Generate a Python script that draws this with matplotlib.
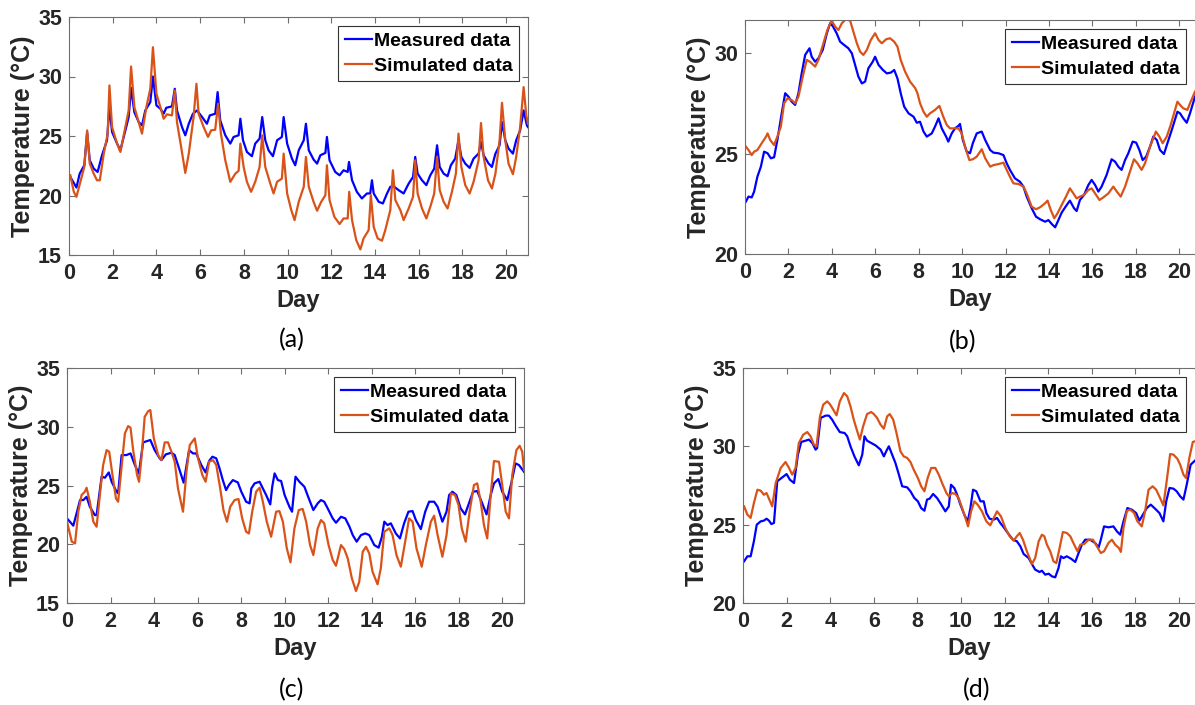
import numpy as np
import matplotlib.pyplot as plt

plt.rcParams['font.family'] = ['Liberation Sans', 'DejaVu Sans']

# (day, temperature) points
a_measured = [
    (0.06, 21.56), (0.34, 20.67), (0.49, 21.84), (0.70, 22.54), (0.83, 25.3), (0.95, 22.96),
    (1.13, 22.26), (1.31, 21.98), (1.51, 23.38), (1.74, 24.64), (1.85, 27.49), (1.97, 25.34),
    (2.20, 24.36), (2.35, 23.80), (2.58, 25.47), (2.73, 26.59), (2.84, 29.05), (2.99, 27.0),
    (3.19, 26.17), (3.34, 25.89), (3.49, 27.15), (3.72, 27.85), (3.84, 30.0), (4.00, 27.57),
    (4.18, 27.29), (4.33, 26.87), (4.45, 27.37), (4.71, 27.49), (4.84, 28.97), (4.94, 27.15),
    (5.17, 25.75), (5.32, 25.06), (5.48, 26.03), (5.67, 26.87), (5.86, 27.15), (6.09, 26.59),
    (6.31, 26.03), (6.44, 26.73), (6.69, 26.87), (6.80, 28.69), (6.92, 26.31), (7.15, 25.06),
    (7.38, 24.36), (7.53, 24.92), (7.76, 25.06), (7.84, 26.45), (7.96, 24.64), (8.14, 23.66),
    (8.37, 23.30), (8.52, 24.36), (8.72, 24.78), (8.84, 26.59), (8.98, 24.64), (9.13, 23.80),
    (9.33, 23.30), (9.52, 24.64), (9.74, 24.92), (9.82, 26.59), (9.98, 24.36), (10.20, 23.10),
    (10.35, 22.54), (10.51, 23.80), (10.74, 24.64), (10.84, 26.03), (10.97, 23.80), (11.19, 23.02),
    (11.35, 22.68), (11.50, 23.38), (11.73, 23.58), (11.80, 24.92), (11.92, 22.96), (12.18, 21.98),
    (12.38, 21.70), (12.56, 22.12), (12.75, 21.98), (12.81, 22.82), (12.95, 21.28), (13.17, 20.31),
    (13.40, 19.75), (13.63, 20.17), (13.78, 20.17), (13.86, 21.28), (13.94, 20.17), (14.17, 19.47),
    (14.36, 19.33), (14.55, 20.17), (14.70, 20.73), (14.85, 20.78), (15.08, 20.45), (15.31, 20.17),
    (15.54, 21.0), (15.74, 21.56), (15.84, 23.24), (15.95, 21.84), (16.15, 21.28), (16.35, 20.87),
    (16.53, 21.70), (16.71, 22.26), (16.84, 24.22), (16.96, 22.40), (17.14, 21.84), (17.32, 21.62),
    (17.47, 22.54), (17.67, 23.10), (17.82, 24.64), (17.95, 23.24), (18.13, 22.68), (18.33, 22.32),
    (18.51, 23.10), (18.74, 23.52), (18.85, 24.50), (18.97, 23.38), (19.20, 22.68), (19.35, 22.40),
    (19.51, 23.52), (19.70, 24.22), (19.81, 26.17), (19.96, 24.64), (20.11, 23.94), (20.31, 23.52),
    (20.46, 24.64), (20.64, 25.47), (20.80, 27.15), (20.95, 25.89), (21.0, 25.75),
]
a_simulated = [
    (0.06, 21.7), (0.22, 20.31), (0.34, 19.89), (0.52, 21.15), (0.70, 22.40), (0.83, 25.47),
    (0.95, 22.68), (1.13, 21.84), (1.28, 21.28), (1.41, 21.28), (1.59, 23.52), (1.77, 25.20),
    (1.85, 29.25), (1.97, 25.75), (2.20, 24.36), (2.35, 23.66), (2.58, 25.75), (2.73, 27.15),
    (2.84, 30.84), (2.99, 27.43), (3.19, 26.17), (3.34, 25.2), (3.54, 27.43), (3.72, 28.97),
    (3.84, 32.46), (4.00, 28.55), (4.18, 27.43), (4.33, 26.45), (4.48, 26.82), (4.71, 26.73),
    (4.84, 28.83), (4.94, 26.17), (5.13, 24.08), (5.32, 21.90), (5.48, 23.52), (5.70, 26.59),
    (5.83, 29.39), (5.93, 26.87), (6.16, 25.75), (6.36, 24.92), (6.50, 25.47), (6.69, 25.53),
    (6.82, 27.71), (6.95, 25.20), (7.15, 22.96), (7.38, 21.15), (7.61, 21.84), (7.76, 22.07),
    (7.84, 24.36), (7.99, 22.40), (8.14, 21.15), (8.33, 20.31), (8.52, 21.15), (8.72, 22.40),
    (8.84, 25.06), (8.98, 22.40), (9.21, 21.0), (9.36, 20.17), (9.52, 21.15), (9.74, 21.42),
    (9.82, 23.52), (9.98, 20.17), (10.17, 18.77), (10.32, 17.93), (10.51, 19.47), (10.74, 20.73),
    (10.84, 23.24), (10.97, 20.73), (11.19, 19.47), (11.35, 18.72), (11.54, 19.47), (11.73, 20.03),
    (11.80, 22.54), (11.92, 19.61), (12.14, 18.21), (12.38, 17.60), (12.56, 18.07), (12.75, 18.07),
    (12.82, 20.31), (12.95, 17.93), (13.14, 16.26), (13.33, 15.47), (13.48, 16.40), (13.71, 17.09),
    (13.81, 20.03), (13.94, 17.37), (14.12, 16.40), (14.32, 16.2), (14.47, 17.09), (14.70, 18.77),
    (14.82, 22.12), (14.93, 19.61), (15.16, 18.77), (15.31, 17.93), (15.54, 18.91), (15.74, 19.89),
    (15.84, 22.96), (15.95, 20.17), (16.15, 18.91), (16.35, 18.07), (16.53, 19.05), (16.71, 20.17),
    (16.84, 23.24), (16.96, 20.45), (17.14, 19.47), (17.32, 18.91), (17.52, 20.31), (17.70, 21.84),
    (17.82, 25.20), (17.95, 22.40), (18.13, 20.87), (18.33, 20.17), (18.51, 21.15), (18.74, 22.96),
    (18.85, 26.09), (18.97, 23.24), (19.17, 21.28), (19.35, 20.59), (19.51, 21.84), (19.70, 24.64),
    (19.81, 27.79), (19.96, 24.64), (20.11, 22.68), (20.31, 21.79), (20.46, 23.24), (20.64, 25.75),
    (20.80, 29.11), (20.92, 26.73), (21.0, 26.03),
]

b_measured = [
    (0.04, 22.61), (0.16, 22.86), (0.31, 22.82), (0.42, 23.11), (0.57, 23.85), (0.73, 24.35),
    (0.88, 25.10), (1.04, 25.02), (1.19, 24.77), (1.34, 24.82), (1.49, 25.68), (1.69, 27.01),
    (1.85, 28.01), (2.00, 27.84), (2.15, 27.59), (2.31, 27.43), (2.46, 28.01), (2.61, 29.0),
    (2.77, 29.92), (2.97, 30.25), (3.07, 29.83), (3.23, 29.58), (3.38, 29.75), (3.58, 30.17),
    (3.77, 31.0), (3.92, 31.5), (4.04, 31.36), (4.22, 31.0), (4.38, 30.58), (4.56, 30.42),
    (4.76, 30.25), (4.92, 30.0), (5.07, 29.42), (5.22, 28.84), (5.38, 28.50), (5.53, 28.59),
    (5.68, 29.25), (5.88, 29.58), (5.99, 29.83), (6.15, 29.42), (6.35, 29.17), (6.53, 29.0),
    (6.72, 29.04), (6.87, 29.17), (7.02, 28.75), (7.17, 28.01), (7.33, 27.34), (7.53, 27.01),
    (7.76, 26.84), (7.91, 26.54), (8.06, 26.59), (8.22, 26.10), (8.37, 25.85), (8.60, 26.01),
    (8.75, 26.35), (8.91, 26.76), (9.06, 26.26), (9.26, 25.85), (9.36, 25.60), (9.52, 26.01),
    (9.67, 26.26), (9.82, 26.38), (9.90, 26.48), (10.03, 25.68), (10.21, 25.10), (10.36, 25.02),
    (10.49, 25.52), (10.67, 26.01), (10.90, 26.10), (11.06, 25.68), (11.29, 25.18), (11.44, 25.05),
    (11.67, 25.02), (11.90, 24.93), (12.05, 24.52), (12.20, 24.19), (12.43, 23.77), (12.66, 23.60),
    (12.82, 23.36), (12.97, 22.86), (13.20, 22.28), (13.40, 21.86), (13.59, 21.73), (13.82, 21.61),
    (13.97, 21.69), (14.12, 21.50), (14.28, 21.33), (14.43, 21.69), (14.58, 22.06), (14.78, 22.39),
    (14.96, 22.66), (15.15, 22.28), (15.27, 22.14), (15.42, 22.69), (15.61, 22.94), (15.81, 23.44),
    (15.96, 23.69), (16.12, 23.44), (16.27, 23.11), (16.42, 23.36), (16.65, 23.94), (16.88, 24.72),
    (17.04, 24.60), (17.19, 24.35), (17.34, 24.19), (17.50, 24.68), (17.65, 25.02), (17.85, 25.60),
    (18.01, 25.55), (18.16, 25.18), (18.31, 24.68), (18.47, 24.85), (18.65, 25.35), (18.80, 25.85),
    (18.96, 25.68), (19.11, 25.18), (19.29, 24.98), (19.45, 25.52), (19.65, 26.18), (19.91, 27.09),
    (20.03, 27.01), (20.18, 26.76), (20.34, 26.54), (20.49, 27.01), (20.72, 27.84),
]
b_simulated = [
    (0.04, 25.35), (0.16, 25.18), (0.31, 24.93), (0.42, 25.10), (0.57, 25.18), (0.77, 25.52),
    (0.97, 25.85), (1.04, 26.01), (1.16, 25.68), (1.34, 25.43), (1.49, 25.85), (1.65, 26.35),
    (1.80, 27.51), (1.96, 27.76), (2.15, 27.67), (2.31, 27.51), (2.46, 27.84), (2.66, 28.84),
    (2.84, 29.67), (2.99, 29.58), (3.23, 29.34), (3.38, 29.67), (3.61, 30.50), (3.79, 31.16),
    (3.99, 31.63), (4.15, 31.33), (4.30, 31.16), (4.46, 31.50), (4.65, 31.70), (4.84, 31.63),
    (4.99, 31.08), (5.15, 30.50), (5.30, 30.08), (5.45, 29.92), (5.61, 30.17), (5.79, 30.66),
    (5.99, 31.0), (6.15, 30.66), (6.30, 30.50), (6.50, 30.70), (6.68, 30.75), (6.87, 30.58),
    (7.02, 30.33), (7.17, 29.67), (7.37, 29.09), (7.60, 28.59), (7.84, 28.26), (7.94, 28.01),
    (8.06, 27.51), (8.22, 27.09), (8.37, 26.84), (8.52, 27.01), (8.75, 27.18), (8.95, 27.38),
    (9.13, 26.84), (9.29, 26.43), (9.44, 26.26), (9.63, 26.26), (9.82, 26.26), (9.98, 26.01),
    (10.13, 25.35), (10.33, 24.68), (10.49, 24.72), (10.67, 24.85), (10.90, 25.22), (11.06, 24.77),
    (11.29, 24.35), (11.44, 24.43), (11.67, 24.48), (11.90, 24.55), (12.05, 24.19), (12.20, 23.85),
    (12.36, 23.52), (12.59, 23.49), (12.82, 23.36), (12.97, 23.02), (13.20, 22.36), (13.40, 22.23),
    (13.59, 22.33), (13.82, 22.53), (13.93, 22.66), (14.08, 22.19), (14.24, 21.78), (14.39, 22.03),
    (14.58, 22.44), (14.78, 22.86), (14.96, 23.27), (15.12, 23.02), (15.27, 22.77), (15.42, 22.86),
    (15.61, 22.94), (15.81, 23.19), (15.96, 23.27), (16.12, 23.02), (16.32, 22.69), (16.50, 22.82),
    (16.73, 23.02), (16.96, 23.36), (17.12, 23.11), (17.30, 22.86), (17.50, 23.36), (17.70, 24.02),
    (17.91, 24.72), (18.07, 24.52), (18.26, 24.19), (18.42, 24.52), (18.65, 25.35), (18.92, 26.10),
    (19.08, 25.85), (19.23, 25.52), (19.42, 25.85), (19.60, 26.43), (19.80, 27.18), (19.91, 27.59),
    (20.03, 27.43), (20.18, 27.26), (20.37, 27.18), (20.49, 27.51), (20.72, 28.09),
]

c_measured = [
    (0.0, 22.2), (0.29, 21.58), (0.44, 22.63), (0.60, 23.76), (0.75, 23.76), (0.90, 24.04),
    (1.05, 23.19), (1.28, 22.48), (1.36, 22.48), (1.59, 25.75), (1.74, 25.66), (1.92, 26.11),
    (2.05, 25.32), (2.28, 24.47), (2.35, 24.33), (2.51, 27.59), (2.73, 27.59), (2.92, 27.73),
    (3.12, 26.74), (3.30, 26.03), (3.50, 28.67), (3.68, 28.78), (3.83, 28.87), (4.03, 28.01),
    (4.26, 27.31), (4.34, 27.16), (4.54, 27.65), (4.80, 27.79), (4.95, 27.59), (5.15, 26.45),
    (5.36, 25.24), (5.61, 28.01), (5.79, 27.73), (5.94, 27.73), (6.17, 26.74), (6.37, 26.11),
    (6.53, 27.08), (6.68, 27.45), (6.86, 27.31), (7.01, 26.45), (7.16, 25.46), (7.31, 24.61),
    (7.44, 25.04), (7.62, 25.46), (7.85, 25.26), (8.01, 24.47), (8.23, 23.62), (8.39, 23.48),
    (8.47, 24.75), (8.62, 25.18), (8.85, 25.32), (9.00, 24.75), (9.15, 24.19), (9.34, 23.39),
    (9.43, 24.89), (9.54, 26.03), (9.69, 25.46), (9.84, 25.38), (10.00, 24.19), (10.22, 23.19),
    (10.34, 22.77), (10.50, 25.75), (10.68, 25.32), (10.91, 24.89), (11.11, 23.90), (11.32, 22.91),
    (11.52, 23.48), (11.67, 23.76), (11.82, 23.62), (11.98, 23.05), (12.21, 22.20), (12.36, 21.83),
    (12.59, 22.34), (12.79, 22.20), (12.98, 21.49), (13.13, 20.78), (13.31, 20.22), (13.51, 20.78),
    (13.71, 20.92), (13.89, 20.78), (14.12, 19.93), (14.32, 19.71), (14.47, 20.64), (14.58, 21.92),
    (14.73, 21.63), (14.88, 21.78), (15.11, 20.92), (15.30, 20.50), (15.49, 21.78), (15.69, 22.77),
    (15.88, 22.82), (16.03, 22.06), (16.26, 21.29), (16.46, 22.77), (16.64, 23.62), (16.87, 23.62),
    (17.03, 23.19), (17.25, 21.92), (17.44, 22.77), (17.56, 24.19), (17.71, 24.47), (17.89, 24.19),
    (18.09, 23.05), (18.29, 22.54), (18.47, 23.48), (18.66, 24.47), (18.85, 24.53), (19.05, 23.62),
    (19.28, 22.54), (19.47, 24.19), (19.62, 25.18), (19.82, 25.55), (20.00, 24.47), (20.23, 23.76),
    (20.43, 25.32), (20.61, 26.88), (20.77, 26.74), (21.0, 26.17),
]
c_simulated = [
    (0.0, 21.92), (0.22, 20.22), (0.37, 20.07), (0.52, 22.77), (0.67, 24.19), (0.82, 24.47),
    (0.90, 24.81), (1.05, 23.62), (1.21, 21.92), (1.36, 21.49), (1.51, 24.19), (1.66, 26.74),
    (1.82, 28.01), (1.94, 27.87), (2.09, 25.89), (2.25, 23.90), (2.35, 23.62), (2.51, 26.60),
    (2.66, 29.43), (2.81, 30.06), (2.92, 29.91), (3.04, 28.01), (3.22, 25.89), (3.31, 25.32),
    (3.42, 27.31), (3.57, 30.85), (3.73, 31.33), (3.83, 31.42), (3.99, 29.01), (4.19, 27.59),
    (4.34, 27.16), (4.49, 28.67), (4.64, 28.67), (4.80, 27.87), (4.95, 27.02), (5.10, 24.75),
    (5.33, 22.77), (5.49, 26.17), (5.64, 28.44), (5.87, 29.01), (6.02, 27.31), (6.22, 25.89),
    (6.37, 25.32), (6.53, 27.02), (6.71, 27.16), (6.86, 26.74), (7.04, 24.75), (7.19, 22.91),
    (7.35, 21.92), (7.50, 23.19), (7.70, 23.76), (7.88, 23.85), (8.05, 22.20), (8.23, 21.07),
    (8.36, 20.92), (8.51, 22.77), (8.69, 24.47), (8.85, 24.81), (9.00, 23.62), (9.18, 21.92),
    (9.38, 20.64), (9.61, 22.77), (9.76, 22.82), (9.92, 21.92), (10.10, 19.65), (10.27, 18.46),
    (10.45, 21.35), (10.65, 22.91), (10.83, 23.0), (10.99, 21.92), (11.17, 19.93), (11.32, 19.08),
    (11.52, 21.35), (11.67, 22.06), (11.82, 21.78), (12.02, 19.93), (12.21, 18.66), (12.36, 18.17),
    (12.59, 19.93), (12.74, 19.59), (12.90, 18.80), (13.09, 17.10), (13.28, 16.02), (13.43, 16.81),
    (13.59, 19.36), (13.74, 19.79), (13.89, 19.22), (14.04, 17.66), (14.27, 16.59), (14.42, 17.95),
    (14.58, 21.07), (14.81, 21.35), (14.96, 20.78), (15.14, 19.08), (15.34, 18.09), (15.54, 20.22),
    (15.72, 22.20), (15.88, 21.92), (16.06, 19.65), (16.30, 18.09), (16.49, 19.93), (16.72, 21.92),
    (16.87, 22.43), (17.03, 20.78), (17.25, 18.94), (17.44, 20.78), (17.64, 24.33), (17.83, 24.19),
    (17.99, 23.34), (18.14, 21.35), (18.32, 20.22), (18.50, 22.77), (18.70, 25.04), (18.85, 25.18),
    (19.01, 23.62), (19.16, 21.63), (19.31, 20.50), (19.47, 24.19), (19.62, 27.08), (19.85, 27.02),
    (20.00, 25.04), (20.16, 22.77), (20.31, 22.20), (20.46, 25.89), (20.65, 28.01), (20.80, 28.38),
    (20.92, 27.87), (21.0, 26.31),
]

d_measured = [
    (0.05, 22.66), (0.20, 22.98), (0.35, 22.98), (0.50, 23.94), (0.63, 25.0), (0.81, 25.21),
    (0.96, 25.26), (1.08, 25.38), (1.19, 25.26), (1.30, 25.04), (1.42, 25.11), (1.57, 27.77),
    (1.80, 28.02), (2.00, 28.23), (2.15, 27.87), (2.34, 27.66), (2.52, 29.47), (2.67, 30.28),
    (2.87, 30.36), (3.02, 30.43), (3.18, 30.21), (3.33, 29.79), (3.40, 29.89), (3.56, 31.81),
    (3.79, 31.96), (3.94, 31.96), (4.09, 31.70), (4.24, 31.34), (4.44, 30.91), (4.66, 30.85),
    (4.78, 30.64), (4.93, 30.0), (5.11, 29.36), (5.31, 28.79), (5.47, 29.47), (5.57, 30.64),
    (5.69, 30.36), (5.88, 30.21), (6.08, 30.06), (6.31, 29.79), (6.46, 29.36), (6.58, 29.72),
    (6.69, 30.0), (6.84, 29.47), (6.99, 28.94), (7.15, 28.19), (7.30, 27.45), (7.53, 27.38),
    (7.68, 27.13), (7.86, 26.70), (8.02, 26.49), (8.17, 26.06), (8.32, 25.89), (8.44, 26.60),
    (8.56, 26.66), (8.72, 26.96), (8.90, 26.70), (9.05, 26.38), (9.28, 25.85), (9.44, 26.17),
    (9.54, 27.55), (9.69, 27.34), (9.82, 26.91), (9.97, 26.28), (10.15, 25.64), (10.31, 25.21),
    (10.43, 26.06), (10.55, 27.23), (10.70, 27.13), (10.89, 26.49), (11.04, 26.49), (11.16, 25.74),
    (11.31, 25.38), (11.50, 25.32), (11.65, 25.43), (11.80, 25.11), (11.98, 24.79), (12.18, 24.40),
    (12.38, 24.04), (12.56, 23.94), (12.72, 23.62), (12.87, 23.13), (13.10, 22.87), (13.25, 22.49),
    (13.40, 22.13), (13.60, 21.98), (13.71, 22.06), (13.86, 21.81), (14.02, 21.87), (14.17, 21.70),
    (14.32, 21.64), (14.47, 22.23), (14.58, 22.98), (14.70, 22.87), (14.85, 22.98), (15.04, 22.83),
    (15.24, 22.62), (15.39, 23.19), (15.54, 23.72), (15.69, 24.04), (15.92, 24.04), (16.15, 23.83),
    (16.31, 23.55), (16.41, 24.04), (16.56, 24.89), (16.76, 24.83), (16.99, 24.89), (17.15, 24.57),
    (17.30, 24.36), (17.45, 25.21), (17.63, 26.06), (17.83, 25.96), (18.03, 25.74), (18.18, 25.26),
    (18.34, 25.64), (18.52, 26.06), (18.70, 26.28), (18.90, 26.02), (19.10, 25.74), (19.28, 25.21),
    (19.41, 26.49), (19.56, 27.34), (19.74, 27.30), (19.89, 27.13), (20.05, 26.81), (20.20, 26.60),
    (20.35, 27.55), (20.53, 28.83), (20.73, 29.09),
]
d_simulated = [
    (0.05, 26.17), (0.20, 25.64), (0.35, 25.43), (0.50, 26.38), (0.66, 27.23), (0.81, 27.17),
    (0.96, 26.91), (1.08, 27.02), (1.24, 26.49), (1.34, 26.17), (1.50, 27.66), (1.73, 28.62),
    (1.95, 29.0), (2.11, 28.62), (2.26, 28.19), (2.41, 28.62), (2.56, 30.21), (2.76, 30.74),
    (2.95, 30.91), (3.10, 30.64), (3.25, 30.11), (3.37, 30.0), (3.53, 31.91), (3.68, 32.66),
    (3.86, 32.87), (3.98, 32.70), (4.14, 32.34), (4.29, 31.98), (4.44, 32.87), (4.63, 33.40),
    (4.78, 33.19), (4.93, 32.55), (5.08, 31.70), (5.24, 30.96), (5.36, 30.43), (5.51, 31.28),
    (5.69, 32.06), (5.88, 32.19), (6.00, 32.06), (6.15, 31.81), (6.31, 31.38), (6.46, 31.13),
    (6.61, 31.91), (6.73, 32.06), (6.89, 31.70), (7.04, 30.85), (7.22, 29.68), (7.37, 29.36),
    (7.53, 29.26), (7.68, 29.0), (7.83, 28.51), (8.02, 27.98), (8.17, 27.45), (8.32, 27.13),
    (8.47, 27.98), (8.63, 28.62), (8.82, 28.62), (8.98, 28.19), (9.13, 27.66), (9.33, 27.02),
    (9.44, 26.81), (9.59, 27.02), (9.74, 26.96), (9.89, 26.70), (10.05, 26.06), (10.20, 25.43),
    (10.32, 24.89), (10.46, 25.85), (10.61, 26.49), (10.76, 26.28), (10.96, 25.85), (11.16, 25.21),
    (11.34, 24.96), (11.50, 25.43), (11.65, 25.85), (11.83, 25.53), (12.03, 24.79), (12.23, 24.26),
    (12.41, 23.98), (12.56, 24.26), (12.69, 24.47), (12.84, 24.04), (13.02, 23.30), (13.25, 22.49),
    (13.40, 22.87), (13.56, 23.94), (13.71, 24.36), (13.82, 24.26), (13.94, 23.72), (14.09, 23.30),
    (14.24, 22.66), (14.37, 22.55), (14.52, 23.51), (14.67, 24.53), (14.85, 24.47), (15.01, 24.26),
    (15.19, 23.72), (15.34, 23.30), (15.47, 23.72), (15.65, 23.77), (15.85, 24.04), (16.05, 24.04),
    (16.23, 23.62), (16.41, 23.19), (16.56, 23.30), (16.76, 23.83), (16.92, 24.04), (17.07, 23.72),
    (17.24, 23.51), (17.33, 23.26), (17.45, 24.79), (17.61, 25.89), (17.76, 25.96), (17.94, 25.74),
    (18.09, 25.21), (18.29, 24.89), (18.44, 25.85), (18.60, 27.23), (18.79, 27.45), (18.95, 27.23),
    (19.13, 26.70), (19.28, 26.23), (19.44, 27.87), (19.59, 29.51), (19.74, 29.47), (19.92, 29.21),
    (20.05, 28.83), (20.20, 28.19), (20.32, 27.98), (20.47, 29.26), (20.63, 30.28), (20.73, 30.32),
]

W, H = 1195, 705
fig = plt.figure(figsize=(W / 100, H / 100), dpi=100)


def rect(left, top, right, bottom):
    return [left / W, 1 - bottom / H, (right - left) / W, (bottom - top) / H]


def panel(box, measured, simulated, ylim, yticks, xmax, boxed, caption, cap_xy):
    ax = fig.add_axes(rect(*box))
    m = np.array(measured)
    s = np.array(simulated)
    ax.plot(m[:, 0], m[:, 1], color='#0000FF', lw=1.6, label='Measured data')
    ax.plot(s[:, 0], s[:, 1], color='#D95319', lw=1.6, label='Simulated data')
    ax.set_xlim(0, xmax)
    ax.set_ylim(*ylim)
    ax.set_xticks(range(0, 21, 2))
    ax.set_yticks(yticks)
    for side, sp in ax.spines.items():
        sp.set_color('#6e6e6e')
        sp.set_linewidth(0.8)
    if not boxed:
        ax.spines['right'].set_visible(False)
    ax.tick_params(direction='in', length=4, width=0.8, color='#6e6e6e',
                   top=True, right=boxed, labelsize=15.5, labelcolor='#262626')
    ax.tick_params(axis='x', pad=6)
    ax.tick_params(axis='y', pad=5)
    for lab in ax.get_xticklabels() + ax.get_yticklabels():
        lab.set_fontweight('bold')
    ax.set_xlabel('Day', fontsize=17, fontweight='bold', color='#262626', labelpad=3)
    ax.set_ylabel('Temperature (°C)', fontsize=18, fontweight='bold', color='#262626', labelpad=2)
    leg = ax.legend(loc='upper right', prop={'weight': 'bold', 'size': 14},
                    fancybox=False, framealpha=1, edgecolor='#333333',
                    handlelength=1.4, handletextpad=0.08, borderpad=0.35,
                    labelspacing=0.35, borderaxespad=0.45)
    leg.get_frame().set_linewidth(0.8)
    fig.text(cap_xy[0] / W, 1 - cap_xy[1] / H, caption, ha='center', va='center',
             fontsize=18, family=['Lato', 'DejaVu Sans'], color='black')
    return ax


panel((69, 17, 528, 255), a_measured, a_simulated, (15, 35), [15, 20, 25, 30, 35], 21, True, '(a)', (292, 340))
panel((745, 20, 1195, 254), b_measured, b_simulated, (20, 31.66), [20, 25, 30], 20.72, False, '(b)', (963, 342))
panel((67, 368, 524, 603), c_measured, c_simulated, (15, 35), [15, 20, 25, 30, 35], 21, True, '(c)', (292, 690))
panel((743, 368, 1195, 603), d_measured, d_simulated, (20, 35), [20, 25, 30, 35], 20.73, False, '(d)', (977, 690))

fig.savefig('out.png', dpi=100)
